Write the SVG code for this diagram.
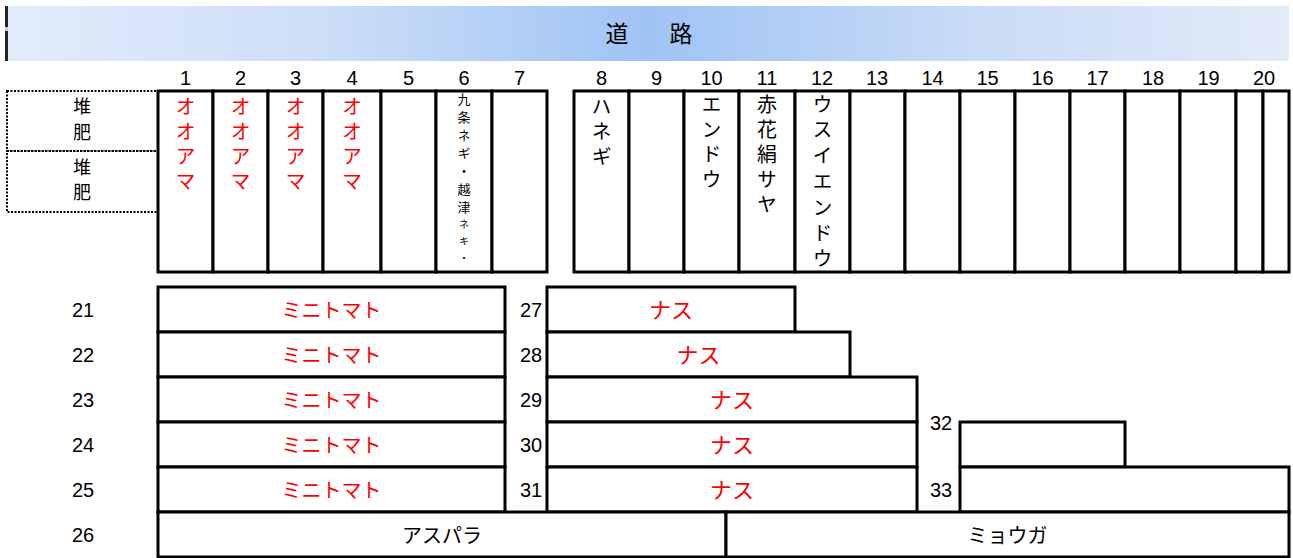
<svg xmlns="http://www.w3.org/2000/svg" width="1293" height="558" viewBox="0 0 1293 558">
<defs>
<linearGradient id="road" x1="0" y1="0" x2="1" y2="0">
<stop offset="0" stop-color="#e2ecfb"/>
<stop offset="0.25" stop-color="#cddef7"/>
<stop offset="0.5" stop-color="#9fc3f4"/>
<stop offset="0.75" stop-color="#c9dbf6"/>
<stop offset="1" stop-color="#e2ebf8"/>
</linearGradient>
<style>
.b{fill:#fff;stroke:#000;stroke-width:3}
.d{fill:none;stroke:#000;stroke-width:2;stroke-dasharray:2 1.5}
.t{font-family:"Noto Sans CJK JP","Liberation Sans",sans-serif;text-anchor:middle;dominant-baseline:central}
.v{font-family:"Noto Sans CJK JP","Liberation Sans",sans-serif;writing-mode:vertical-rl;text-anchor:start;dominant-baseline:central;font-size:20px;letter-spacing:5px}
.n{font-family:"Liberation Sans",sans-serif;font-size:20px;fill:#000;text-anchor:middle;dominant-baseline:central}
.r{font-size:20px;fill:#f00}
.k{font-size:20px;fill:#000}
.red{fill:#f00}
.blk{fill:#000}
</style>
</defs>
<rect width="1293" height="558" fill="#fff"/>

<g id="road-banner">
<rect x="5" y="6" width="1284" height="55" fill="url(#road)"/>
<rect x="5" y="6" width="3" height="55" fill="#222"/>
<rect x="5" y="27" width="3" height="4" fill="#ccc"/>
<text class="t k" x="617" y="32" style="font-size:23px">道</text>
<text class="t k" x="681" y="32" style="font-size:23px">路</text>
</g>

<g id="column-numbers" class="n">
<text x="185.5" y="78">1</text>
<text x="240.5" y="78">2</text>
<text x="295.5" y="78">3</text>
<text x="352" y="78">4</text>
<text x="408.5" y="78">5</text>
<text x="464" y="78">6</text>
<text x="519.5" y="78">7</text>
<text x="601.5" y="78">8</text>
<text x="656.5" y="78">9</text>
<text x="711.5" y="78">10</text>
<text x="767" y="78">11</text>
<text x="822" y="78">12</text>
<text x="877" y="78">13</text>
<text x="932.5" y="78">14</text>
<text x="987.5" y="78">15</text>
<text x="1042.5" y="78">16</text>
<text x="1097.5" y="78">17</text>
<text x="1153" y="78">18</text>
<text x="1208.5" y="78">19</text>
<text x="1264" y="78">20</text>
</g>

<g id="compost-1">
<rect class="d" x="7" y="91" width="151" height="60"/>
<text class="v blk" x="82" y="97" style="font-size:18px;letter-spacing:8px">堆肥</text>
</g>
<g id="compost-2">
<rect class="d" x="7" y="151" width="151" height="61"/>
<text class="v blk" x="82" y="158" style="font-size:18px;letter-spacing:7px">堆肥</text>
</g>

<g id="bed-1"><rect class="b" x="158" y="91" width="55" height="181"/><text class="v red" x="185.5" y="96">オオアマ</text></g>
<g id="bed-2"><rect class="b" x="213" y="91" width="55" height="181"/><text class="v red" x="240.5" y="96">オオアマ</text></g>
<g id="bed-3"><rect class="b" x="268" y="91" width="55" height="181"/><text class="v red" x="295.5" y="96">オオアマ</text></g>
<g id="bed-4"><rect class="b" x="323" y="91" width="58" height="181"/><text class="v red" x="352" y="96">オオアマ</text></g>
<g id="bed-5"><rect class="b" x="381" y="91" width="55" height="181"/></g>
<g id="bed-6"><rect class="b" x="436" y="91" width="56" height="181"/>
<text class="v blk" x="464" y="93" style="font-size:13px;letter-spacing:5px">九条ネギ・越津<tspan style="font-size:10px;letter-spacing:7px">ネキ・</tspan></text></g>
<g id="bed-7"><rect class="b" x="492" y="91" width="55" height="181"/></g>

<g id="bed-8"><rect class="b" x="574" y="91" width="55" height="181"/><text class="v blk" x="601.5" y="96">ハネギ</text></g>
<g id="bed-9"><rect class="b" x="629" y="91" width="55" height="181"/></g>
<g id="bed-10"><rect class="b" x="684" y="91" width="55" height="181"/><text class="v blk" x="711.5" y="94">エンドウ</text></g>
<g id="bed-11"><rect class="b" x="739" y="91" width="56" height="181"/><text class="v blk" x="767" y="94">赤花絹サヤ</text></g>
<g id="bed-12"><rect class="b" x="795" y="91" width="55" height="181"/><text class="v blk" x="822.5" y="94" style="letter-spacing:5.8px">ウスイエンドウ</text></g>
<g id="bed-13"><rect class="b" x="850" y="91" width="55" height="181"/></g>
<g id="bed-14"><rect class="b" x="905" y="91" width="55" height="181"/></g>
<g id="bed-15"><rect class="b" x="960" y="91" width="55" height="181"/></g>
<g id="bed-16"><rect class="b" x="1015" y="91" width="55" height="181"/></g>
<g id="bed-17"><rect class="b" x="1070" y="91" width="55" height="181"/></g>
<g id="bed-18"><rect class="b" x="1125" y="91" width="55" height="181"/></g>
<g id="bed-19"><rect class="b" x="1180" y="91" width="56" height="181"/></g>
<g id="bed-20"><rect class="b" x="1236" y="91" width="27" height="181"/><rect class="b" x="1263" y="91" width="26" height="181"/></g>

<g id="row-labels" class="n">
<text x="83" y="310">21</text>
<text x="83" y="355">22</text>
<text x="83" y="400">23</text>
<text x="83" y="445">24</text>
<text x="83" y="490">25</text>
<text x="83" y="535">26</text>
<text x="531" y="310">27</text>
<text x="531" y="355">28</text>
<text x="531" y="400">29</text>
<text x="531" y="445">30</text>
<text x="531" y="490">31</text>
<text x="941" y="423">32</text>
<text x="941" y="490">33</text>
</g>

<g id="bed-21"><rect class="b" x="158" y="287" width="347" height="45"/><text class="t r" x="331.5" y="309.5">ミニトマト</text></g>
<g id="bed-22"><rect class="b" x="158" y="332" width="347" height="45"/><text class="t r" x="331.5" y="354.5">ミニトマト</text></g>
<g id="bed-23"><rect class="b" x="158" y="377" width="347" height="45"/><text class="t r" x="331.5" y="399.5">ミニトマト</text></g>
<g id="bed-24"><rect class="b" x="158" y="422" width="347" height="45"/><text class="t r" x="331.5" y="444.5">ミニトマト</text></g>
<g id="bed-25"><rect class="b" x="158" y="467" width="347" height="45"/><text class="t r" x="331.5" y="489.5">ミニトマト</text></g>

<g id="bed-27"><rect class="b" x="547" y="287" width="248" height="45"/><text class="t r" x="671" y="308" style="font-size:22px">ナス</text></g>
<g id="bed-28"><rect class="b" x="547" y="332" width="303" height="45"/><text class="t r" x="698.5" y="353" style="font-size:22px">ナス</text></g>
<g id="bed-29"><rect class="b" x="547" y="377" width="370" height="45"/><text class="t r" x="732" y="398" style="font-size:22px">ナス</text></g>
<g id="bed-30"><rect class="b" x="547" y="422" width="370" height="45"/><text class="t r" x="732" y="443" style="font-size:22px">ナス</text></g>
<g id="bed-31"><rect class="b" x="547" y="467" width="370" height="45"/><text class="t r" x="732" y="488" style="font-size:22px">ナス</text></g>

<g id="bed-32"><rect class="b" x="960" y="422" width="165" height="45"/></g>
<g id="bed-33"><rect class="b" x="960" y="467" width="329" height="45"/></g>

<g id="bed-26a"><rect class="b" x="158" y="512" width="568" height="45"/><text class="t k" x="442" y="534.5">アスパラ</text></g>
<g id="bed-26b"><rect class="b" x="726" y="512" width="563" height="45"/><text class="t k" x="1007.5" y="534.5">ミョウガ</text></g>

<g id="connectors"></g>
</svg>
